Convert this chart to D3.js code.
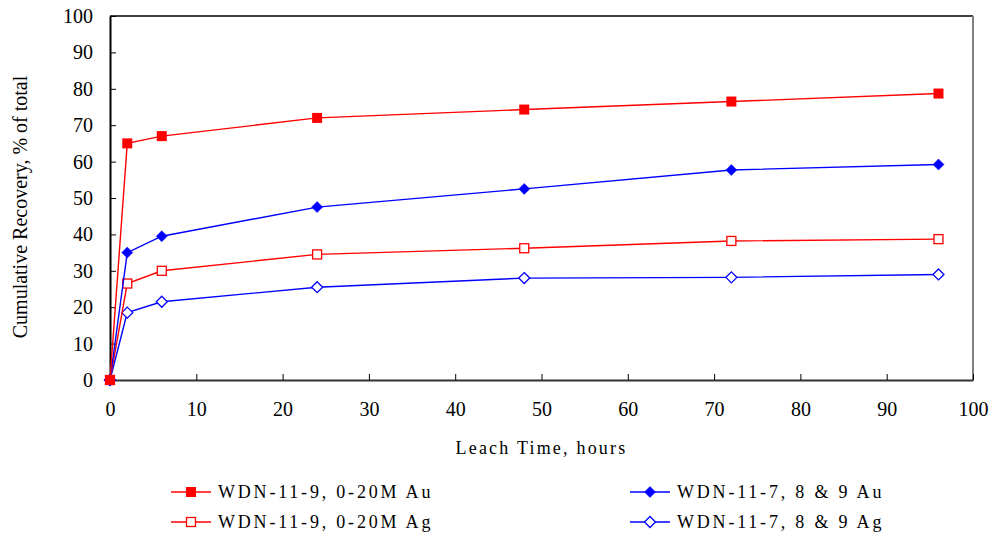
<!DOCTYPE html>
<html>
<head>
<meta charset="utf-8">
<script src="https://cdn.jsdelivr.net/npm/d3@7"></script>
<style>
  body { margin: 0; background: #fff; }
  text { font-family: "Liberation Serif", "Times New Roman", serif; fill: #000; }
</style>
</head>
<body>
<svg width="992" height="533"></svg>
<script>
//*
//* Data
//*

var hours = [0, 2, 6, 24, 48, 72, 96];
var au9 = [0, 65, 67, 72, 74.3, 76.5, 78.7];
var au7 = [0, 35, 39.5, 47.5, 52.5, 57.7, 59.2];
var ag9 = [0, 26.5, 30, 34.5, 36.2, 38.2, 38.7];
var ag7 = [0, 18.5, 21.5, 25.5, 28, 28.2, 29];
var seriesNames = ["WDN-11-9, 0-20M Au", "WDN-11-7, 8 & 9 Au", "WDN-11-9, 0-20M Ag", "WDN-11-7, 8 & 9 Ag"];
var xTicks = [0, 10, 20, 30, 40, 50, 60, 70, 80, 90, 100];
var yTicks = [0, 10, 20, 30, 40, 50, 60, 70, 80, 90, 100];

var series = [
	{ name: seriesNames[0], values: au9, color: "#ff0000", shape: "square", fill: true },
	{ name: seriesNames[1], values: au7, color: "#0000ff", shape: "diamond", fill: true },
	{ name: seriesNames[2], values: ag9, color: "#ff0000", shape: "square", fill: false },
	{ name: seriesNames[3], values: ag7, color: "#0000ff", shape: "diamond", fill: false }
];

//*
//* Chart
//*

var svg = d3.select("svg");
var plotLeft = 110, plotRight = 973, plotTop = 16, plotBottom = 380;

var x = d3.scaleLinear().domain([0, 100]).range([plotLeft, plotRight]);
var y = d3.scaleLinear().domain([0, 100]).range([plotBottom, plotTop]);

/* frame */
svg.append("line")
	.attr("x1", plotLeft).attr("x2", plotRight).attr("y1", plotTop).attr("y2", plotTop)
	.attr("stroke", "#000").attr("stroke-width", 1.5);
svg.append("line")
	.attr("x1", plotRight).attr("x2", plotRight).attr("y1", plotTop).attr("y2", plotBottom)
	.attr("stroke", "#808080").attr("stroke-width", 2);

/* axes */
var xAxis = svg.append("g")
	.attr("transform", "translate(0," + plotBottom + ")")
	.call(d3.axisBottom(x).tickValues(xTicks).tickSizeInner(-6).tickSizeOuter(0));
var yAxis = svg.append("g")
	.attr("transform", "translate(" + plotLeft + ",0)")
	.call(d3.axisLeft(y).tickValues(yTicks).tickSizeInner(-6).tickSizeOuter(0));

[xAxis, yAxis].forEach(function(a) {
	a.select(".domain").attr("stroke", "#000").attr("stroke-width", 2);
	a.selectAll(".tick line").attr("stroke", "#000").attr("stroke-width", 1);
	a.selectAll(".tick text")
		.style("font-family", "'Liberation Serif', serif")
		.style("font-size", "20px")
		.attr("fill", "#000");
});
xAxis.select(".domain").attr("stroke", "#333");
xAxis.selectAll(".tick text").attr("y", 22).attr("dy", "0.71em");
yAxis.selectAll(".tick text").attr("x", -17).attr("dy", "0.32em");

/* axis titles */
svg.append("text")
	.attr("x", (plotLeft + plotRight) / 2)
	.attr("y", 454)
	.attr("text-anchor", "middle")
	.style("font-size", "18px")
	.style("letter-spacing", "2.2px")
	.text("Leach Time, hours");
svg.append("text")
	.attr("transform", "translate(27,207) rotate(-90)")
	.attr("text-anchor", "middle")
	.style("font-size", "20px")
	.text("Cumulative Recovery, % of total");

/* lines and markers */
var line = d3.line()
	.x(function(d, i) { return x(hours[i]); })
	.y(function(d) { return y(d); });

function marker(g, s, cx, cy) {
	if (s.shape === "square") {
		var sz = s.fill ? 10 : 9;
		g.append("rect")
			.attr("x", cx - sz / 2).attr("y", cy - sz / 2)
			.attr("width", sz).attr("height", sz)
			.attr("fill", s.fill ? s.color : "#fff")
			.attr("stroke", s.color).attr("stroke-width", s.fill ? 0 : 1.3);
	} else {
		var r = 5.5;
		g.append("path")
			.attr("d", "M" + cx + "," + (cy - r) + "L" + (cx + r) + "," + cy + "L" + cx + "," + (cy + r) + "L" + (cx - r) + "," + cy + "Z")
			.attr("fill", s.fill ? s.color : "#fff")
			.attr("stroke", s.color).attr("stroke-width", s.fill ? 0.5 : 1.3);
	}
}

/* draw in reverse so the Au series sit on top */
series.slice().reverse().forEach(function(s) {
	var g = svg.append("g");
	g.append("path")
		.datum(s.values)
		.attr("d", line)
		.attr("fill", "none")
		.attr("stroke", s.color)
		.attr("stroke-width", 1.4);
	s.values.forEach(function(v, i) {
		marker(g, s, x(hours[i]), y(v));
	});
});

/* legend */
var legendPos = [[171, 492], [630, 492], [171, 522], [630, 522]];
series.forEach(function(s, i) {
	var lx = legendPos[i][0], ly = legendPos[i][1];
	var g = svg.append("g");
	g.append("line")
		.attr("x1", lx).attr("x2", lx + 40)
		.attr("y1", ly).attr("y2", ly)
		.attr("stroke", s.color).attr("stroke-width", 1.4);
	marker(g, s, lx + 20, ly);
	g.append("text")
		.attr("x", lx + 47)
		.attr("y", ly + 6)
		.style("font-size", "18px")
		.style("letter-spacing", "2.8px")
		.text(s.name);
});
</script>
</body>
</html>
